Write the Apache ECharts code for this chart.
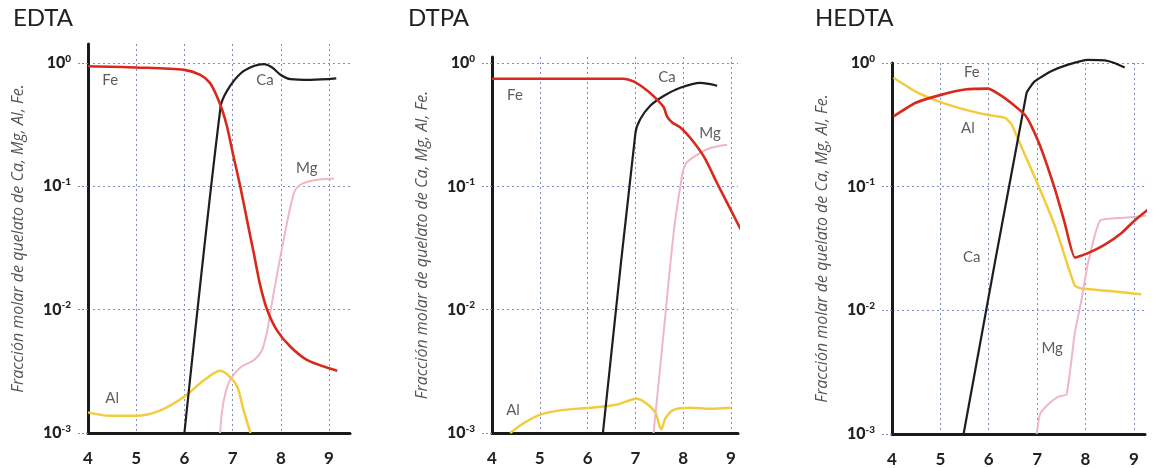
<!DOCTYPE html>
<html>
<head>
<meta charset="utf-8">
<script src="https://cdn.jsdelivr.net/npm/echarts@6/dist/echarts.min.js"></script>
<style>
html,body{margin:0;padding:0;background:#fff;}
#chart{width:1162px;height:468px;}
</style>
</head>
<body>
<div id="chart"></div>
<script>
// ---- Data (pH, molar fraction) ----
const panelTitles = ['EDTA', 'DTPA', 'HEDTA'];
const xTicks = [4, 5, 6, 7, 8, 9];
const yTicks = [0.001, 0.01, 0.1, 1];
const yAxisName = 'Fracción molar de quelato de Ca, Mg, Al, Fe.';

const edtaFe = [[4.0,0.94],[5.0,0.92],[6.0,0.88],[6.33,0.80],[6.53,0.69],[6.67,0.54],[6.78,0.42],[6.88,0.31],[7.02,0.174],[7.16,0.099],[7.30,0.053],[7.44,0.0285],[7.58,0.0153],[7.72,0.0099],[7.92,0.0068],[8.20,0.0050],[8.55,0.0039],[9.17,0.0032]];
const edtaCa = [[6.0,0.001],[6.75,0.44],[6.89,0.60],[7.17,0.825],[7.44,0.945],[7.65,0.98],[7.82,0.92],[8.0,0.80],[8.2,0.74],[8.62,0.73],[9.15,0.75]];
const edtaMg = [[6.74,0.001],[6.78,0.0015],[6.85,0.0021],[6.95,0.0027],[7.16,0.0034],[7.44,0.0039],[7.6,0.0046],[7.68,0.0058],[7.72,0.0068],[7.85,0.0135],[8.06,0.037],[8.27,0.088],[8.41,0.103],[8.69,0.112],[9.10,0.116]];
const edtaAl = [[4.0,0.00147],[4.45,0.00138],[5.0,0.00138],[5.49,0.00152],[5.98,0.00195],[6.40,0.00266],[6.74,0.0032],[6.88,0.0030],[7.09,0.0024],[7.23,0.00152],[7.37,0.001]];

const dtpaFe = [[4.0,0.746],[5,0.746],[6,0.746],[6.75,0.746],[6.96,0.71],[7.17,0.63],[7.38,0.54],[7.59,0.44],[7.66,0.37],[7.77,0.33],[7.94,0.30],[8.15,0.247],[8.43,0.175],[8.71,0.106],[8.99,0.065],[9.20,0.045]];
const dtpaCa = [[6.32,0.001],[7.0,0.27],[7.10,0.35],[7.31,0.45],[7.59,0.54],[7.94,0.63],[8.36,0.69],[8.71,0.655]];
const dtpaMg = [[7.38,0.001],[7.59,0.0065],[7.80,0.042],[7.94,0.1],[8.04,0.15],[8.29,0.18],[8.57,0.205],[8.92,0.218]];
const dtpaAl = [[4.38,0.001],[4.66,0.0012],[5.01,0.00141],[5.50,0.00154],[6.06,0.0016],[6.61,0.0017],[7.03,0.0019],[7.24,0.00173],[7.42,0.00146],[7.54,0.00107],[7.63,0.00132],[7.80,0.00154],[8.15,0.0016],[8.57,0.00157],[8.99,0.0016]];

const hedtaFe = [[4.03,0.37],[4.48,0.475],[5.03,0.555],[5.51,0.61],[5.99,0.62],[6.27,0.54],[6.54,0.45],[6.75,0.38],[6.88,0.31],[7.09,0.2],[7.37,0.095],[7.57,0.051],[7.78,0.0267],[8.05,0.029],[8.40,0.034],[8.74,0.042],[9.01,0.053],[9.37,0.069]];
const hedtaAl = [[4.03,0.76],[4.48,0.59],[4.96,0.49],[5.51,0.42],[5.99,0.38],[6.34,0.36],[6.47,0.32],[6.61,0.24],[6.82,0.156],[7.09,0.089],[7.37,0.048],[7.57,0.0275],[7.78,0.0158],[7.92,0.0150],[8.46,0.0144],[9.15,0.0135]];
const hedtaCa = [[5.48,0.001],[6.78,0.57],[6.95,0.71],[7.30,0.86],[7.64,0.97],[8.05,1.06],[8.40,1.05],[8.60,1.0],[8.81,0.92]];
const hedtaMg = [[6.99,0.001],[7.06,0.00145],[7.23,0.00174],[7.43,0.002],[7.61,0.0021],[7.78,0.0066],[7.92,0.0123],[8.05,0.024],[8.30,0.053],[8.81,0.056],[9.4,0.059]];

// in-plot text labels: [text, pH, fraction]
const edtaLabels = [['Fe',4.46,0.73],['Ca',7.67,0.73],['Mg',8.54,0.14],['Al',4.5,0.0019]];
const dtpaLabels = [['Fe',4.48,0.55],['Ca',7.66,0.77],['Mg',8.56,0.27],['Al',4.44,0.00154]];
const hedtaLabels = [['Fe',5.65,0.85],['Al',5.57,0.30],['Ca',5.65,0.0267],['Mg',7.31,0.0049]];

// ---- Styling / layout ----
const FONT = 'Lato, "DejaVu Sans", sans-serif';
const NAMEFONT = '"Open Sans", Lato, sans-serif';
const colors = {Fe:'#d9281c', Ca:'#1e1e1e', Mg:'#efb6c6', Al:'#f2cc3c'};
const gridBlue = '#7d8cc4';
const panels = [
  {fe:edtaFe, ca:edtaCa, mg:edtaMg, al:edtaAl, labels:edtaLabels, grid:{left:88, top:44, width:262, height:389}, xMax:9.435, yMax:1.426, titleLeft:8, smooth:0.3},
  {fe:dtpaFe, ca:dtpaCa, mg:dtpaMg, al:dtpaAl, labels:dtpaLabels, grid:{left:492, top:57, width:246, height:376}, xMax:9.146, yMax:1.12, titleLeft:403, smooth:0.3},
  {fe:hedtaFe, ca:hedtaCa, mg:hedtaMg, al:hedtaAl, labels:hedtaLabels, grid:{left:892, top:63, width:253, height:371}, xMax:9.23, yMax:1, titleLeft:810, smooth:0.15}
];

const option = {
  animation:false,
  backgroundColor:'#ffffff',
  title: panels.map((p,i)=>({text:panelTitles[i], left:p.titleLeft, top:1,
    textStyle:{fontFamily:FONT, fontSize:24, fontWeight:'normal', color:'#222'}})),
  grid: panels.map(p=>Object.assign({containLabel:false}, p.grid)),
  xAxis: panels.map((p,i)=>({
    type:'value', gridIndex:i, min:4, max:p.xMax, interval:1,
    axisLine:{show:true, onZero:false, lineStyle:{color:'#1a1a1a', width:3}},
    axisTick:{show:false, customValues:xTicks},
    axisLabel:{customValues:xTicks, fontFamily:FONT, fontSize:17, fontWeight:'bold', color:'#222', margin:17},
    splitLine:{show:true, showMinLine:false, lineStyle:{color:gridBlue, type:[2,3], width:1}}
  })),
  yAxis: panels.map((p,i)=>({
    type:'log', logBase:10, gridIndex:i, min:0.001, max:p.yMax,
    name:yAxisName, nameLocation:'middle', nameGap:62, nameRotate:90,
    nameTextStyle:{fontFamily:NAMEFONT, fontSize:16, fontStyle:'italic', color:'#555'},
    axisLine:{show:true, onZero:false, lineStyle:{color:'#1a1a1a', width:3}},
    axisTick:{show:true, customValues:yTicks, length:10, lineStyle:{color:gridBlue, type:[2,2], width:1}},
    axisLabel:{customValues:yTicks, margin:17,
      formatter:(v)=>{const e=Math.round(Math.log10(v)); return '{b|10}{s|'+(e===0?'0':'-'+(-e))+'}';},
      rich:{b:{fontFamily:FONT, fontSize:16, fontWeight:900, color:'#222'},
            s:{fontFamily:FONT, fontSize:10, fontWeight:900, color:'#222', padding:[0,0,9,0]}}},
    splitLine:{show:true, showMinLine:false, lineStyle:{color:gridBlue, type:[2,3], width:1}}
  })),
  series: []
};

panels.forEach((p,i)=>{
  const mk = (name, data, width, z)=>({
    type:'line', name, xAxisIndex:i, yAxisIndex:i, data, smooth:p.smooth, showSymbol:false, clip:false, z,
    lineStyle:{color:colors[name], width}
  });
  option.series.push(mk('Al', p.al, 2.5, 2));
  option.series.push(mk('Mg', p.mg, 2, 3));
  option.series.push(mk('Ca', p.ca, 2.2, 4));
  option.series.push(mk('Fe', p.fe, 2.6, 5));
  option.series.push({
    type:'scatter', xAxisIndex:i, yAxisIndex:i, symbolSize:0, silent:true, z:6,
    data:p.labels.map(l=>[l[1], l[2], l[0]]),
    label:{show:true, position:'inside', formatter:(q)=>q.value[2],
      fontFamily:FONT, fontSize:15, color:'#333'}
  });
});

const chart = echarts.init(document.getElementById('chart'), null, {renderer:'canvas'});
chart.setOption(option);
</script>
</body>
</html>
